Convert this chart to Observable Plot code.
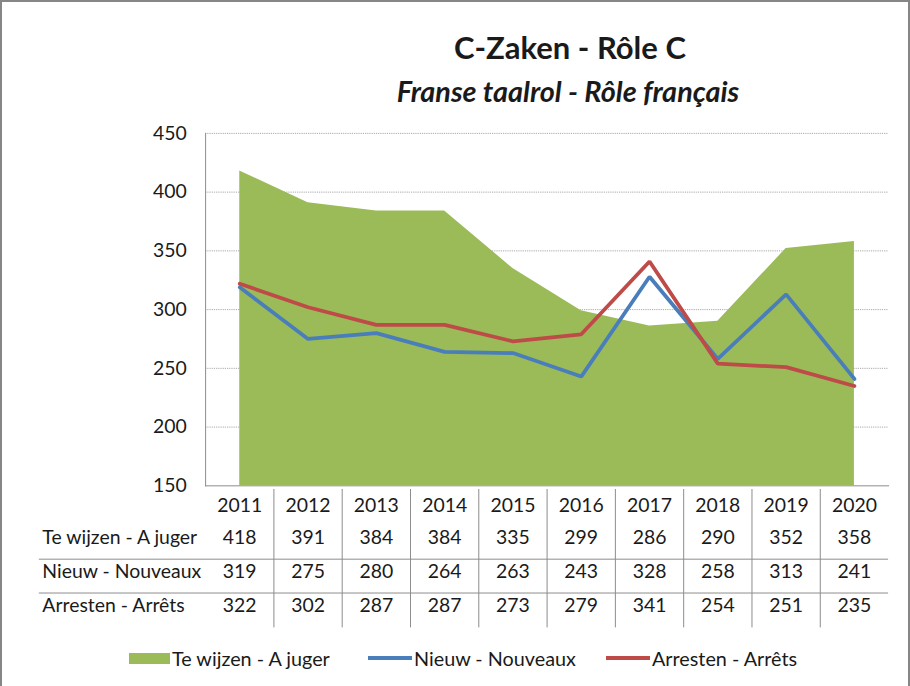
<!DOCTYPE html>
<html>
<head>
<meta charset="utf-8">
<script src="https://cdn.jsdelivr.net/npm/d3@7"></script>
<script src="https://cdn.jsdelivr.net/npm/@observablehq/plot@0.6"></script>
<style>
  html, body { margin: 0; padding: 0; background: #fff; }
  #wrap { position: relative; width: 910px; height: 686px; box-sizing: border-box;
          border-left: 2px solid #868686; border-top: 2px solid #868686; border-right: 2px solid #868686;
          font-family: Lato, "Liberation Sans", sans-serif; color: #1a1a1a; overflow: hidden; }
  #title { position: absolute; left: 0; width: 1136px; top: 27px; text-align: center;
           font-size: 31px; font-weight: bold; line-height: 36px; }
  #subtitle { position: absolute; left: 0; width: 1132px; top: 73px; text-align: center;
              font-size: 28.8px; font-weight: bold; font-style: italic; line-height: 32px; }
  #chart { position: absolute; left: -2px; top: 106px; }
  #table { position: absolute; left: -2px; top: 485px; }
  #legend { position: absolute; top: 644px; left: 0; width: 910px; height: 24px; font-size: 19.8px; }
  .li { position: absolute; top: 0; height: 24px; display: flex; align-items: center; }
  .sw { display: inline-block; }
</style>
</head>
<body>
<div id="wrap">
  <div id="title">C-Zaken - Rôle C</div>
  <div id="subtitle">Franse taalrol - Rôle français</div>
  <div id="chart"></div>
  <div id="table"></div>
  <div id="legend"></div>
</div>
<script>
const years = [2011, 2012, 2013, 2014, 2015, 2016, 2017, 2018, 2019, 2020];
const teWijzen = [418, 391, 384, 384, 335, 299, 286, 290, 352, 358];
const nieuw = [319, 275, 280, 264, 263, 243, 328, 258, 313, 241];
const arresten = [322, 302, 287, 287, 273, 279, 341, 254, 251, 235];
const seriesNames = ["Te wijzen - A juger", "Nieuw - Nouveaux", "Arresten - Arrêts"];
const seriesValues = [teWijzen, nieuw, arresten];
const colors = ["#9BBB59", "#4A7EBB", "#BE4B48"];
const yTicks = [150, 200, 250, 300, 350, 400, 450];

const font = 'Lato, "Liberation Sans", sans-serif';
const fs = 19.5;
const xDomain = [years[0] - 0.5, years[years.length - 1] + 0.5];
const xRange = [206, 892];

const rows = (vals) => years.map((year, i) => ({year, value: vals[i]}));
const dA = rows(teWijzen), dN = rows(nieuw), dR = rows(arresten);

const chart = Plot.plot({
  width: 912, height: 392,
  marginLeft: 206, marginRight: 20, marginTop: 25, marginBottom: 13,
  style: {fontFamily: font, fontSize: fs + "px", color: "#1a1a1a", background: "transparent"},
  x: {domain: xDomain, range: xRange, axis: null},
  y: {domain: [150, 450], ticks: yTicks, label: null},
  marks: [
    Plot.gridY(yTicks.slice(1), {stroke: "#a8a8a8", strokeOpacity: 1, strokeDasharray: "1.2,1"}),
    Plot.axisY(yTicks, {tickSize: 0, tickPadding: 19, label: null, fontSize: fs}),
    Plot.areaY(dA, {x: "year", y1: 150, y2: "value", fill: colors[0], fillOpacity: 1}),
    Plot.lineY(dN, {x: "year", y: "value", stroke: colors[1], strokeWidth: 3.8, strokeLinejoin: "miter"}),
    Plot.lineY(dR, {x: "year", y: "value", stroke: colors[2], strokeWidth: 3.8, strokeLinejoin: "miter"}),
    Plot.frame({anchor: "left", stroke: "#8c8c8c"}),
    Plot.frame({anchor: "bottom", stroke: "#8c8c8c"})
  ]
});
document.getElementById("chart").appendChild(chart);

// data table
const rowKeys = ["years", ...seriesNames];
const cells = [];
years.forEach((year, i) => {
  cells.push({year, row: "years", label: String(year)});
  seriesNames.forEach((s, k) => cells.push({year, row: s, label: String(seriesValues[k][i])}));
});
const separators = years.slice(0, -1).map(y => y + 0.5);

const table = Plot.plot({
  width: 912, height: 145,
  marginLeft: 39, marginRight: 20, marginTop: 2, marginBottom: 4,
  style: {fontFamily: font, fontSize: fs + "px", color: "#1a1a1a", background: "transparent"},
  x: {domain: xDomain, range: xRange, axis: null},
  y: {type: "band", domain: rowKeys, padding: 0, axis: null},
  marks: [
    Plot.ruleX(separators, {stroke: "#8c8c8c", strokeWidth: 1}),
    Plot.ruleY(seriesNames.slice(1), {y: d => d, stroke: "#8c8c8c", strokeWidth: 1, dy: -17}),
    Plot.text(cells.filter(d => d.row === "years"), {x: "year", y: "row", text: "label", fontSize: fs, dy: -3}),
    Plot.text(cells.filter(d => d.row !== "years"), {x: "year", y: "row", text: "label", fontSize: fs, dy: -4}),
    Plot.text(seriesNames, {y: d => d, text: d => d, frameAnchor: "left", textAnchor: "start", dx: 3, dy: -4, fontSize: fs})
  ]
});
document.getElementById("table").appendChild(table);

// legend
const legend = document.getElementById("legend");
const legendPos = [127, 366, 604];
seriesNames.forEach((s, k) => {
  const item = document.createElement("div");
  item.className = "li";
  item.style.left = legendPos[k] + "px";
  const sw = document.createElement("span");
  sw.className = "sw";
  if (k === 0) { sw.style.width = "41px"; sw.style.height = "11px"; sw.style.background = colors[k]; }
  else { sw.style.width = "44px"; sw.style.height = "3.8px"; sw.style.background = colors[k]; }
  const tx = document.createElement("span");
  tx.textContent = s;
  tx.style.marginLeft = "2px";
  item.appendChild(sw); item.appendChild(tx);
  legend.appendChild(item);
});
</script>
</body>
</html>
